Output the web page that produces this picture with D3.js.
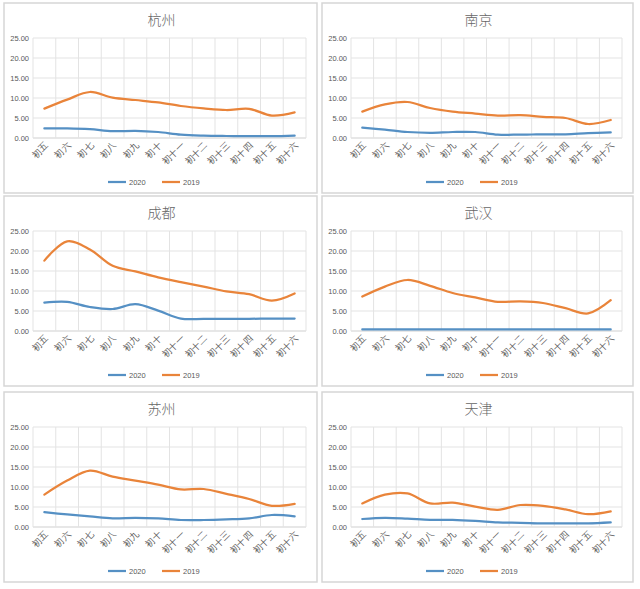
<!DOCTYPE html>
<html>
<head>
<meta charset="utf-8">
<script src="https://cdn.jsdelivr.net/npm/d3@7"></script>
<style>
  html, body { margin: 0; padding: 0; background: #fff; }
  svg { display: block; font-family: "Noto Sans CJK SC", "Noto Sans", sans-serif; }
</style>
</head>
<body>
<svg id="chart" width="640" height="589"></svg>
<script>
// ---- data ----
const categories = ["初五","初六","初七","初八","初九","初十","初十一","初十二","初十三","初十四","初十五","初十六"];
const seriesNames = ["2020", "2019"];
const yTicks = [0, 5, 10, 15, 20, 25];
const cities = ["杭州", "南京", "成都", "武汉", "苏州", "天津"];

const hangzhou2020 = [2.4, 2.4, 2.2, 1.7, 1.8, 1.5, 0.85, 0.6, 0.5, 0.45, 0.45, 0.6];
const hangzhou2019 = [7.35, 9.6, 11.5, 10.1, 9.5, 8.9, 8.0, 7.4, 7.0, 7.3, 5.6, 6.4];
const nanjing2020  = [2.6, 2.1, 1.5, 1.3, 1.5, 1.5, 0.85, 0.85, 0.9, 0.9, 1.2, 1.4];
const nanjing2019  = [6.6, 8.4, 9.0, 7.5, 6.6, 6.1, 5.6, 5.7, 5.3, 5.0, 3.5, 4.5];
const chengdu2020  = [7.1, 7.3, 6.0, 5.5, 6.7, 5.1, 3.1, 3.05, 3.05, 3.05, 3.1, 3.1];
const chengdu2019  = [17.6, 22.4, 20.4, 16.3, 14.9, 13.4, 12.2, 11.1, 9.9, 9.2, 7.6, 9.4];
const wuhan2020    = [0.4, 0.4, 0.4, 0.4, 0.4, 0.4, 0.4, 0.4, 0.4, 0.4, 0.4, 0.4];
const wuhan2019    = [8.6, 11.1, 12.75, 11.3, 9.5, 8.4, 7.3, 7.4, 7.0, 5.7, 4.4, 7.7];
const suzhou2020   = [3.7, 3.15, 2.65, 2.15, 2.3, 2.15, 1.75, 1.75, 1.9, 2.15, 3.0, 2.65];
const suzhou2019   = [8.1, 11.6, 14.1, 12.6, 11.6, 10.6, 9.4, 9.5, 8.3, 7.0, 5.3, 5.8];
const tianjin2020  = [2.0, 2.3, 2.1, 1.8, 1.8, 1.55, 1.15, 1.05, 0.9, 0.9, 0.9, 1.15];
const tianjin2019  = [5.9, 8.1, 8.4, 5.9, 6.1, 5.1, 4.3, 5.5, 5.3, 4.4, 3.2, 3.9];

const cityData = [
  [hangzhou2020, hangzhou2019],
  [nanjing2020, nanjing2019],
  [chengdu2020, chengdu2019],
  [wuhan2020, wuhan2019],
  [suzhou2020, suzhou2019],
  [tianjin2020, tianjin2019]
];
const colors = ["#5590c4", "#e9843a"];

// ---- layout ----
const svg = d3.select("#chart");
const colX = [4, 322];
const colW = [313, 311];
const rowY = [3, 196, 392];
const panelH = 190;

cities.forEach((city, i) => {
  const col = i % 2, row = Math.floor(i / 2);
  const px = colX[col], py = rowY[row], pw = colW[col];
  const g = svg.append("g").attr("transform", `translate(${px},${py})`);

  g.append("rect")
    .attr("x", 0).attr("y", 0).attr("width", pw).attr("height", panelH)
    .attr("fill", "#fff").attr("stroke", "#d6d6d6").attr("stroke-width", 1.5);

  g.append("text")
    .attr("x", pw / 2 + 1).attr("y", 22)
    .attr("text-anchor", "middle")
    .attr("font-size", 14).attr("font-weight", 300).attr("fill", "#666666")
    .text(city);

  const left = 29, right = pw - 11, top = 35, bottom = 135;
  const x = d3.scaleBand().domain(categories).range([left, right]);
  const y = d3.scaleLinear().domain([0, 25]).range([bottom, top]);

  // horizontal grid
  g.append("g").selectAll("line").data(yTicks).join("line")
    .attr("x1", left).attr("x2", right)
    .attr("y1", d => y(d)).attr("y2", d => y(d))
    .attr("stroke", d => d === 0 ? "#cfcfcf" : "#e3e3e3").attr("stroke-width", 1);

  // vertical grid at band boundaries
  const bounds = categories.map(c => x(c)).concat([right]);
  g.append("g").selectAll("line").data(bounds).join("line")
    .attr("x1", d => d).attr("x2", d => d)
    .attr("y1", top).attr("y2", bottom)
    .attr("stroke", "#e3e3e3").attr("stroke-width", 1);

  // y axis labels
  const yAxis = d3.axisLeft(y).tickValues(yTicks).tickFormat(d3.format(".2f")).tickSize(0).tickPadding(4);
  const ya = g.append("g").attr("transform", `translate(${left},0)`).call(yAxis);
  ya.select(".domain").remove();
  ya.selectAll("text").attr("font-size", 7.5).attr("fill", "#595959")
    .attr("font-family", "\"Liberation Sans\", sans-serif");

  // x axis labels
  const xAxis = d3.axisBottom(x).tickSize(0).tickPadding(0);
  const xa = g.append("g").attr("transform", `translate(0,${bottom})`).call(xAxis);
  xa.select(".domain").remove();
  xa.selectAll("text")
    .attr("font-size", 9).attr("fill", "#595959")
    .attr("text-anchor", "end")
    .attr("dy", null)
    .attr("transform", "translate(4,8) rotate(-45)");

  // lines
  const line = d3.line()
    .x((d, j) => x(categories[j]) + x.bandwidth() / 2)
    .y(d => y(d))
    .curve(d3.curveCatmullRom.alpha(0.5));

  cityData[i].forEach((vals, s) => {
    g.append("path")
      .datum(vals)
      .attr("fill", "none")
      .attr("stroke", colors[s])
      .attr("stroke-width", 2.25)
      .attr("stroke-linecap", "round")
      .attr("d", line);
  });

  // legend
  const legX = [104, 158];
  seriesNames.forEach((name, s) => {
    const lg = g.append("g").attr("transform", `translate(${legX[s]},179)`);
    lg.append("line").attr("x1", 0).attr("x2", 18).attr("y1", 0).attr("y2", 0)
      .attr("stroke", colors[s]).attr("stroke-width", 2.25);
    lg.append("text").attr("x", 21).attr("y", 3).attr("font-size", 7.5)
      .attr("fill", "#595959").attr("font-family", "\"Liberation Sans\", sans-serif")
      .text(name);
  });
});
</script>
</body>
</html>
